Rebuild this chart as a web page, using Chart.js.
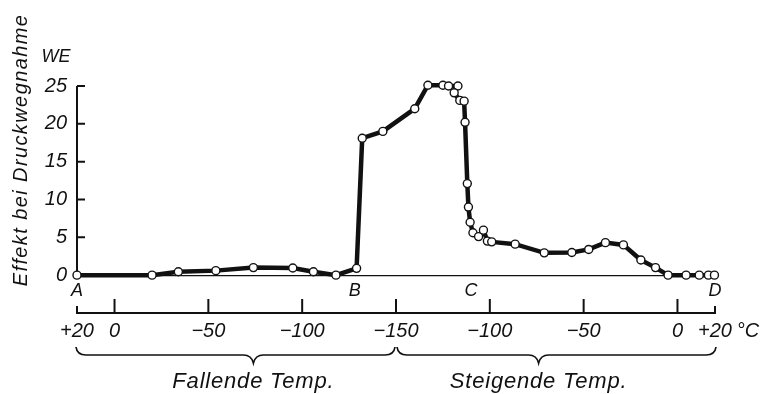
<!DOCTYPE html>
<html lang="de">
<head>
<meta charset="utf-8">
<title>Effekt bei Druckwegnahme</title>
<script src="https://cdn.jsdelivr.net/npm/chart.js@4.4.1/dist/chart.umd.min.js"></script>
<style>
  html, body { margin: 0; padding: 0; background: #fff; }
</style>
</head>
<body>
<canvas id="chart" width="772" height="394"></canvas>
<script>
// Weg entlang des Temperaturzyklus in Grad:
// 0 = +20 °C (fallend), 170 = -150 °C, 340 = +20 °C (steigend)
const weg = [0, 40, 54, 74, 94, 115, 126, 138, 149, 152, 163, 180, 187, 195, 198, 203,
  201, 204, 206.3, 206.8, 208, 208.6, 209.5, 211, 214, 216.6, 218.7, 221, 233.5, 249,
  263.7, 272.7, 281.6, 291.2, 300.5, 308.3, 315, 324.6, 331.6, 336.5, 339.7];
const effekt = [0, 0, 0.45, 0.6, 1.0, 0.95, 0.45, 0, 0.9, 18.1, 19.0, 22.0, 25.1, 25.1, 25.0, 25.0,
  24.1, 23.1, 23.0, 20.2, 12.1, 9.0, 7.0, 5.6, 5.1, 5.95, 4.5, 4.4, 4.1, 2.95,
  3.0, 3.4, 4.3, 4.0, 2.0, 1.0, 0, 0, 0, 0, 0];

const wegTicks = [0, 20, 70, 120, 170, 220, 270, 320, 340];
const tempLabels = ['+20', '0', '−50', '−100', '−150', '−100', '−50', '0', '+20'];
const effektTicks = [0, 5, 10, 15, 20, 25];

const punktNamen = ['A', 'B', 'C', 'D'];
const punktWeg = [0, 148, 210, 340];
const abschnitte = ['Fallende Temp.', 'Steigende Temp.'];
const abschnittGrenzen = [0, 170, 340];
const abschnittMitte = [94, 246];

const INK = '#111';
const FONT = '"Liberation Sans", Arial, sans-serif';

function klammer(ctx, xa, xm, xe, yTop) {
  const yMid = yTop + 8, ySpitze = yTop + 16;
  ctx.beginPath();
  ctx.moveTo(xa, yTop);
  ctx.quadraticCurveTo(xa + 1, yMid, xa + 10, yMid);
  ctx.lineTo(xm - 10, yMid);
  ctx.quadraticCurveTo(xm - 2, yMid, xm, ySpitze);
  ctx.quadraticCurveTo(xm + 2, yMid, xm + 10, yMid);
  ctx.lineTo(xe - 10, yMid);
  ctx.quadraticCurveTo(xe - 1, yMid, xe, yTop);
  ctx.stroke();
}

const achsenPlugin = {
  id: 'achsen',
  beforeDatasetsDraw(chart) {
    const { ctx, scales: { x, y }, chartArea } = chart;
    ctx.save();
    ctx.strokeStyle = INK;
    ctx.lineWidth = 2;

    // Effekt-Achse nur von 0 bis 25, Striche nach innen
    const x0 = x.getPixelForValue(0);
    ctx.beginPath();
    ctx.moveTo(x0, y.getPixelForValue(25));
    ctx.lineTo(x0, y.getPixelForValue(0));
    effektTicks.forEach(v => {
      const py = y.getPixelForValue(v);
      ctx.moveTo(x0, py);
      ctx.lineTo(x0 + 8, py);
    });
    ctx.stroke();

    // Temperaturachse: Striche nach oben
    const yb = chartArea.bottom;
    ctx.beginPath();
    wegTicks.forEach((v, i) => {
      const px = x.getPixelForValue(v);
      const len = (i === 0 || i === wegTicks.length - 1) ? 7 : 14;
      ctx.moveTo(px, yb);
      ctx.lineTo(px, yb - len);
    });
    ctx.stroke();
    ctx.restore();
  },
  afterDraw(chart) {
    const { ctx, scales: { x } } = chart;
    ctx.save();
    ctx.fillStyle = INK;
    ctx.strokeStyle = INK;

    // Punkte A-D
    ctx.font = `italic 18px ${FONT}`;
    ctx.textAlign = 'center';
    ctx.textBaseline = 'middle';
    punktNamen.forEach((n, i) => ctx.fillText(n, x.getPixelForValue(punktWeg[i]), 291));

    // Einheiten
    ctx.fillText('WE', 56, 57);
    ctx.font = `italic 20px ${FONT}`;
    ctx.fillText('°C', 748, 331);

    // Klammern und Beschriftung
    ctx.lineWidth = 1.7;
    ctx.font = `italic 22px ${FONT}`;
    ctx.letterSpacing = '0.8px';
    ctx.textBaseline = 'alphabetic';
    abschnitte.forEach((t, i) => {
      const xa = x.getPixelForValue(abschnittGrenzen[i]);
      const xe = x.getPixelForValue(abschnittGrenzen[i + 1]);
      const xm = x.getPixelForValue(abschnittMitte[i]);
      klammer(ctx, xa + (i ? 1 : -1), xm, xe - (i ? -1 : 1), 347);
      ctx.fillText(t, xm, 388);
    });

    // Achsentitel senkrecht
    ctx.font = `italic 20px ${FONT}`;
    ctx.letterSpacing = '1.4px';
    ctx.translate(27, 150);
    ctx.rotate(-Math.PI / 2);
    ctx.fillText('Effekt bei Druckwegnahme', 0, 0);
    ctx.restore();
  }
};

new Chart(document.getElementById('chart'), {
  type: 'line',
  data: {
    datasets: [{
      data: weg.map((w, i) => ({ x: w, y: effekt[i] })),
      borderColor: INK,
      borderWidth: 4.5,
      tension: 0,
      pointRadius: 4,
      pointBorderWidth: 1.4,
      pointBackgroundColor: '#fff',
      pointBorderColor: INK,
      clip: false
    }]
  },
  options: {
    responsive: false,
    animation: false,
    layout: { padding: { top: 86, right: 57, bottom: 0, left: 0 } },
    plugins: { legend: { display: false }, tooltip: { enabled: false } },
    scales: {
      x: {
        type: 'linear',
        min: 0,
        max: 340,
        afterFit: (scale) => { scale.height = 81; },
        afterBuildTicks: (scale) => { scale.ticks = wegTicks.map(v => ({ value: v })); },
        grid: { display: true, drawOnChartArea: false, drawTicks: false, color: 'transparent' },
        border: { display: true, color: INK, width: 2 },
        ticks: {
          autoSkip: false,
          maxRotation: 0,
          padding: 6,
          color: INK,
          font: { family: FONT, size: 20, style: 'italic' },
          callback: (v, i) => tempLabels[i]
        }
      },
      y: {
        min: -5,
        max: 25,
        afterFit: (scale) => { scale.width = 77; },
        afterBuildTicks: (scale) => { scale.ticks = effektTicks.map(v => ({ value: v })); },
        grid: {
          drawTicks: false,
          lineWidth: 1.2,
          color: (c) => (c.tick && c.tick.value === 0 ? INK : 'transparent')
        },
        border: { display: false },
        ticks: {
          padding: 10,
          color: INK,
          font: { family: FONT, size: 20, style: 'italic' }
        }
      }
    }
  },
  plugins: [achsenPlugin]
});
</script>
</body>
</html>
